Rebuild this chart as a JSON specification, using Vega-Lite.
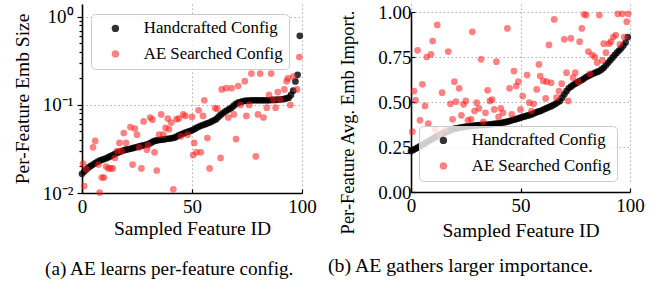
{
  "$schema": "https://vega.github.io/schema/vega-lite/v6.json",
  "padding": {"left": 12, "top": 3, "right": 5, "bottom": 2},
  "spacing": 11,
  "config": {
    "font": "Liberation Serif",
    "view": {"stroke": null},
    "title": {"font": "Liberation Serif", "fontWeight": "normal", "color": "black"},
    "axis": {
      "labelFont": "Liberation Serif", "titleFont": "Liberation Serif",
      "labelFontSize": 19, "titleFontSize": 19.5, "titleFontWeight": "normal",
      "labelColor": "black", "titleColor": "black",
      "domainColor": "black", "domainWidth": 1.6,
      "tickColor": "black", "tickWidth": 1.2,
      "gridColor": "#b0b0b0", "gridDash": [1.5, 2.5], "gridWidth": 1
    },
    "legend": {"labelFont": "Liberation Serif"}
  },
  "resolve": {"scale": {"color": "independent", "opacity": "independent"}, "legend": {"color": "independent", "opacity": "independent"}},
  "datasets": {
    "emb": [
      {"id":0,"v":0.0165,"cfg":"Handcrafted Config"},{"id":1,"v":0.0175,"cfg":"Handcrafted Config"},{"id":2,"v":0.0185,"cfg":"Handcrafted Config"},{"id":3,"v":0.0195,"cfg":"Handcrafted Config"},{"id":4,"v":0.0203,"cfg":"Handcrafted Config"},{"id":5,"v":0.021,"cfg":"Handcrafted Config"},{"id":6,"v":0.0218,"cfg":"Handcrafted Config"},{"id":7,"v":0.0226,"cfg":"Handcrafted Config"},{"id":8,"v":0.0233,"cfg":"Handcrafted Config"},{"id":9,"v":0.0238,"cfg":"Handcrafted Config"},
      {"id":10,"v":0.0243,"cfg":"Handcrafted Config"},{"id":11,"v":0.0248,"cfg":"Handcrafted Config"},{"id":12,"v":0.0255,"cfg":"Handcrafted Config"},{"id":13,"v":0.0262,"cfg":"Handcrafted Config"},{"id":14,"v":0.027,"cfg":"Handcrafted Config"},{"id":15,"v":0.0278,"cfg":"Handcrafted Config"},{"id":16,"v":0.0287,"cfg":"Handcrafted Config"},{"id":17,"v":0.0293,"cfg":"Handcrafted Config"},{"id":18,"v":0.03,"cfg":"Handcrafted Config"},{"id":19,"v":0.0305,"cfg":"Handcrafted Config"},
      {"id":20,"v":0.031,"cfg":"Handcrafted Config"},{"id":21,"v":0.0314,"cfg":"Handcrafted Config"},{"id":22,"v":0.0318,"cfg":"Handcrafted Config"},{"id":23,"v":0.0323,"cfg":"Handcrafted Config"},{"id":24,"v":0.0328,"cfg":"Handcrafted Config"},{"id":25,"v":0.0333,"cfg":"Handcrafted Config"},{"id":26,"v":0.0338,"cfg":"Handcrafted Config"},{"id":27,"v":0.0343,"cfg":"Handcrafted Config"},{"id":28,"v":0.0348,"cfg":"Handcrafted Config"},{"id":29,"v":0.0353,"cfg":"Handcrafted Config"},
      {"id":30,"v":0.0358,"cfg":"Handcrafted Config"},{"id":31,"v":0.0368,"cfg":"Handcrafted Config"},{"id":32,"v":0.038,"cfg":"Handcrafted Config"},{"id":33,"v":0.039,"cfg":"Handcrafted Config"},{"id":34,"v":0.0395,"cfg":"Handcrafted Config"},{"id":35,"v":0.04,"cfg":"Handcrafted Config"},{"id":36,"v":0.0403,"cfg":"Handcrafted Config"},{"id":37,"v":0.0406,"cfg":"Handcrafted Config"},{"id":38,"v":0.041,"cfg":"Handcrafted Config"},{"id":39,"v":0.0413,"cfg":"Handcrafted Config"},
      {"id":40,"v":0.0416,"cfg":"Handcrafted Config"},{"id":41,"v":0.042,"cfg":"Handcrafted Config"},{"id":42,"v":0.0425,"cfg":"Handcrafted Config"},{"id":43,"v":0.0437,"cfg":"Handcrafted Config"},{"id":44,"v":0.045,"cfg":"Handcrafted Config"},{"id":45,"v":0.0464,"cfg":"Handcrafted Config"},{"id":46,"v":0.0474,"cfg":"Handcrafted Config"},{"id":47,"v":0.0485,"cfg":"Handcrafted Config"},{"id":48,"v":0.0495,"cfg":"Handcrafted Config"},{"id":49,"v":0.0505,"cfg":"Handcrafted Config"},
      {"id":50,"v":0.0515,"cfg":"Handcrafted Config"},{"id":51,"v":0.053,"cfg":"Handcrafted Config"},{"id":52,"v":0.0548,"cfg":"Handcrafted Config"},{"id":53,"v":0.0565,"cfg":"Handcrafted Config"},{"id":54,"v":0.058,"cfg":"Handcrafted Config"},{"id":55,"v":0.0592,"cfg":"Handcrafted Config"},{"id":56,"v":0.0605,"cfg":"Handcrafted Config"},{"id":57,"v":0.0618,"cfg":"Handcrafted Config"},{"id":58,"v":0.063,"cfg":"Handcrafted Config"},{"id":59,"v":0.065,"cfg":"Handcrafted Config"},
      {"id":60,"v":0.067,"cfg":"Handcrafted Config"},{"id":61,"v":0.069,"cfg":"Handcrafted Config"},{"id":62,"v":0.073,"cfg":"Handcrafted Config"},{"id":63,"v":0.077,"cfg":"Handcrafted Config"},{"id":64,"v":0.0805,"cfg":"Handcrafted Config"},{"id":65,"v":0.084,"cfg":"Handcrafted Config"},{"id":66,"v":0.087,"cfg":"Handcrafted Config"},{"id":67,"v":0.09,"cfg":"Handcrafted Config"},{"id":68,"v":0.093,"cfg":"Handcrafted Config"},{"id":69,"v":0.098,"cfg":"Handcrafted Config"},
      {"id":70,"v":0.103,"cfg":"Handcrafted Config"},{"id":71,"v":0.106,"cfg":"Handcrafted Config"},{"id":72,"v":0.108,"cfg":"Handcrafted Config"},{"id":73,"v":0.11,"cfg":"Handcrafted Config"},{"id":74,"v":0.111,"cfg":"Handcrafted Config"},{"id":75,"v":0.112,"cfg":"Handcrafted Config"},{"id":76,"v":0.112,"cfg":"Handcrafted Config"},{"id":77,"v":0.113,"cfg":"Handcrafted Config"},{"id":78,"v":0.113,"cfg":"Handcrafted Config"},{"id":79,"v":0.113,"cfg":"Handcrafted Config"},
      {"id":80,"v":0.113,"cfg":"Handcrafted Config"},{"id":81,"v":0.113,"cfg":"Handcrafted Config"},{"id":82,"v":0.113,"cfg":"Handcrafted Config"},{"id":83,"v":0.113,"cfg":"Handcrafted Config"},{"id":84,"v":0.113,"cfg":"Handcrafted Config"},{"id":85,"v":0.113,"cfg":"Handcrafted Config"},{"id":86,"v":0.114,"cfg":"Handcrafted Config"},{"id":87,"v":0.114,"cfg":"Handcrafted Config"},{"id":88,"v":0.114,"cfg":"Handcrafted Config"},{"id":89,"v":0.115,"cfg":"Handcrafted Config"},
      {"id":90,"v":0.115,"cfg":"Handcrafted Config"},{"id":91,"v":0.116,"cfg":"Handcrafted Config"},{"id":92,"v":0.117,"cfg":"Handcrafted Config"},{"id":93,"v":0.119,"cfg":"Handcrafted Config"},{"id":94,"v":0.121,"cfg":"Handcrafted Config"},{"id":95,"v":0.13,"cfg":"Handcrafted Config"},{"id":96,"v":0.145,"cfg":"Handcrafted Config"},{"id":97,"v":0.185,"cfg":"Handcrafted Config"},{"id":98,"v":0.22,"cfg":"Handcrafted Config"},{"id":99,"v":0.61,"cfg":"Handcrafted Config"},
      {"id":0.5,"v":0.0215,"cfg":"AE Searched Config"},{"id":1,"v":0.012,"cfg":"AE Searched Config"},{"id":2,"v":0.0186,"cfg":"AE Searched Config"},{"id":5,"v":0.033,"cfg":"AE Searched Config"},{"id":6,"v":0.039,"cfg":"AE Searched Config"},{"id":7.5,"v":0.021,"cfg":"AE Searched Config"},{"id":8,"v":0.0101,"cfg":"AE Searched Config"},{"id":9,"v":0.015,"cfg":"AE Searched Config"},{"id":10,"v":0.015,"cfg":"AE Searched Config"},{"id":11,"v":0.02,"cfg":"AE Searched Config"},
      {"id":12,"v":0.019,"cfg":"AE Searched Config"},{"id":13,"v":0.019,"cfg":"AE Searched Config"},{"id":14,"v":0.019,"cfg":"AE Searched Config"},{"id":15,"v":0.025,"cfg":"AE Searched Config"},{"id":16,"v":0.03,"cfg":"AE Searched Config"},{"id":17,"v":0.037,"cfg":"AE Searched Config"},{"id":18,"v":0.03,"cfg":"AE Searched Config"},{"id":19,"v":0.048,"cfg":"AE Searched Config"},{"id":20,"v":0.037,"cfg":"AE Searched Config"},{"id":22,"v":0.056,"cfg":"AE Searched Config"},
      {"id":23,"v":0.021,"cfg":"AE Searched Config"},{"id":24,"v":0.054,"cfg":"AE Searched Config"},{"id":25,"v":0.046,"cfg":"AE Searched Config"},{"id":26,"v":0.033,"cfg":"AE Searched Config"},{"id":27,"v":0.019,"cfg":"AE Searched Config"},{"id":28,"v":0.065,"cfg":"AE Searched Config"},{"id":29.5,"v":0.031,"cfg":"AE Searched Config"},{"id":30,"v":0.035,"cfg":"AE Searched Config"},{"id":31,"v":0.072,"cfg":"AE Searched Config"},{"id":32,"v":0.068,"cfg":"AE Searched Config"},
      {"id":33,"v":0.029,"cfg":"AE Searched Config"},{"id":34,"v":0.018,"cfg":"AE Searched Config"},{"id":35,"v":0.046,"cfg":"AE Searched Config"},{"id":36,"v":0.078,"cfg":"AE Searched Config"},{"id":37,"v":0.046,"cfg":"AE Searched Config"},{"id":38,"v":0.055,"cfg":"AE Searched Config"},{"id":39,"v":0.07,"cfg":"AE Searched Config"},{"id":39.5,"v":0.053,"cfg":"AE Searched Config"},{"id":40.5,"v":0.063,"cfg":"AE Searched Config"},{"id":41.5,"v":0.011,"cfg":"AE Searched Config"},
      {"id":43,"v":0.069,"cfg":"AE Searched Config"},{"id":44,"v":0.07,"cfg":"AE Searched Config"},{"id":45,"v":0.044,"cfg":"AE Searched Config"},{"id":46,"v":0.078,"cfg":"AE Searched Config"},{"id":47,"v":0.075,"cfg":"AE Searched Config"},{"id":48,"v":0.046,"cfg":"AE Searched Config"},{"id":50,"v":0.073,"cfg":"AE Searched Config"},{"id":50.5,"v":0.027,"cfg":"AE Searched Config"},{"id":51,"v":0.037,"cfg":"AE Searched Config"},{"id":52,"v":0.029,"cfg":"AE Searched Config"},
      {"id":53,"v":0.087,"cfg":"AE Searched Config"},{"id":54,"v":0.029,"cfg":"AE Searched Config"},{"id":55,"v":0.075,"cfg":"AE Searched Config"},{"id":55.6,"v":0.113,"cfg":"AE Searched Config"},{"id":57,"v":0.042,"cfg":"AE Searched Config"},{"id":58,"v":0.019,"cfg":"AE Searched Config"},{"id":60.5,"v":0.092,"cfg":"AE Searched Config"},{"id":61.5,"v":0.09,"cfg":"AE Searched Config"},{"id":63,"v":0.025,"cfg":"AE Searched Config"},{"id":63.5,"v":0.15,"cfg":"AE Searched Config"},
      {"id":65.5,"v":0.155,"cfg":"AE Searched Config"},{"id":66.5,"v":0.072,"cfg":"AE Searched Config"},{"id":68,"v":0.155,"cfg":"AE Searched Config"},{"id":69,"v":0.078,"cfg":"AE Searched Config"},{"id":70,"v":0.041,"cfg":"AE Searched Config"},{"id":71,"v":0.164,"cfg":"AE Searched Config"},{"id":72,"v":0.1,"cfg":"AE Searched Config"},{"id":74,"v":0.186,"cfg":"AE Searched Config"},{"id":74.7,"v":0.075,"cfg":"AE Searched Config"},{"id":76,"v":0.1,"cfg":"AE Searched Config"},
      {"id":77,"v":0.227,"cfg":"AE Searched Config"},{"id":79,"v":0.026,"cfg":"AE Searched Config"},{"id":80,"v":0.078,"cfg":"AE Searched Config"},{"id":81,"v":0.227,"cfg":"AE Searched Config"},{"id":82.5,"v":0.072,"cfg":"AE Searched Config"},{"id":84,"v":0.093,"cfg":"AE Searched Config"},{"id":85,"v":0.13,"cfg":"AE Searched Config"},{"id":86,"v":0.227,"cfg":"AE Searched Config"},{"id":87,"v":0.115,"cfg":"AE Searched Config"},{"id":88,"v":0.093,"cfg":"AE Searched Config"},
      {"id":89,"v":0.14,"cfg":"AE Searched Config"},{"id":90,"v":0.115,"cfg":"AE Searched Config"},{"id":92,"v":0.15,"cfg":"AE Searched Config"},{"id":93,"v":0.186,"cfg":"AE Searched Config"},{"id":93.6,"v":0.2,"cfg":"AE Searched Config"},{"id":94.7,"v":0.1,"cfg":"AE Searched Config"},{"id":96,"v":0.21,"cfg":"AE Searched Config"},{"id":97.7,"v":0.15,"cfg":"AE Searched Config"},{"id":98.8,"v":0.35,"cfg":"AE Searched Config"}
    ],
    "imp": [
      {"id":0,"v":0.228,"cfg":"Handcrafted Config"},{"id":1,"v":0.234,"cfg":"Handcrafted Config"},{"id":2,"v":0.24,"cfg":"Handcrafted Config"},{"id":3,"v":0.246,"cfg":"Handcrafted Config"},{"id":4,"v":0.254,"cfg":"Handcrafted Config"},{"id":5,"v":0.261,"cfg":"Handcrafted Config"},{"id":6,"v":0.268,"cfg":"Handcrafted Config"},{"id":7,"v":0.276,"cfg":"Handcrafted Config"},{"id":8,"v":0.283,"cfg":"Handcrafted Config"},{"id":9,"v":0.29,"cfg":"Handcrafted Config"},
      {"id":10,"v":0.297,"cfg":"Handcrafted Config"},{"id":11,"v":0.304,"cfg":"Handcrafted Config"},{"id":12,"v":0.311,"cfg":"Handcrafted Config"},{"id":13,"v":0.317,"cfg":"Handcrafted Config"},{"id":14,"v":0.322,"cfg":"Handcrafted Config"},{"id":15,"v":0.328,"cfg":"Handcrafted Config"},{"id":16,"v":0.333,"cfg":"Handcrafted Config"},{"id":17,"v":0.338,"cfg":"Handcrafted Config"},{"id":18,"v":0.343,"cfg":"Handcrafted Config"},{"id":19,"v":0.348,"cfg":"Handcrafted Config"},
      {"id":20,"v":0.352,"cfg":"Handcrafted Config"},{"id":21,"v":0.354,"cfg":"Handcrafted Config"},{"id":22,"v":0.357,"cfg":"Handcrafted Config"},{"id":23,"v":0.359,"cfg":"Handcrafted Config"},{"id":24,"v":0.361,"cfg":"Handcrafted Config"},{"id":25,"v":0.363,"cfg":"Handcrafted Config"},{"id":26,"v":0.365,"cfg":"Handcrafted Config"},{"id":27,"v":0.366,"cfg":"Handcrafted Config"},{"id":28,"v":0.367,"cfg":"Handcrafted Config"},{"id":29,"v":0.369,"cfg":"Handcrafted Config"},
      {"id":30,"v":0.37,"cfg":"Handcrafted Config"},{"id":31,"v":0.371,"cfg":"Handcrafted Config"},{"id":32,"v":0.372,"cfg":"Handcrafted Config"},{"id":33,"v":0.373,"cfg":"Handcrafted Config"},{"id":34,"v":0.373,"cfg":"Handcrafted Config"},{"id":35,"v":0.374,"cfg":"Handcrafted Config"},{"id":36,"v":0.375,"cfg":"Handcrafted Config"},{"id":37,"v":0.377,"cfg":"Handcrafted Config"},{"id":38,"v":0.378,"cfg":"Handcrafted Config"},{"id":39,"v":0.38,"cfg":"Handcrafted Config"},
      {"id":40,"v":0.381,"cfg":"Handcrafted Config"},{"id":41,"v":0.383,"cfg":"Handcrafted Config"},{"id":42,"v":0.386,"cfg":"Handcrafted Config"},{"id":43,"v":0.388,"cfg":"Handcrafted Config"},{"id":44,"v":0.391,"cfg":"Handcrafted Config"},{"id":45,"v":0.394,"cfg":"Handcrafted Config"},{"id":46,"v":0.398,"cfg":"Handcrafted Config"},{"id":47,"v":0.402,"cfg":"Handcrafted Config"},{"id":48,"v":0.405,"cfg":"Handcrafted Config"},{"id":49,"v":0.409,"cfg":"Handcrafted Config"},
      {"id":50,"v":0.413,"cfg":"Handcrafted Config"},{"id":51,"v":0.417,"cfg":"Handcrafted Config"},{"id":52,"v":0.42,"cfg":"Handcrafted Config"},{"id":53,"v":0.424,"cfg":"Handcrafted Config"},{"id":54,"v":0.427,"cfg":"Handcrafted Config"},{"id":55,"v":0.431,"cfg":"Handcrafted Config"},{"id":56,"v":0.436,"cfg":"Handcrafted Config"},{"id":57,"v":0.441,"cfg":"Handcrafted Config"},{"id":58,"v":0.446,"cfg":"Handcrafted Config"},{"id":59,"v":0.45,"cfg":"Handcrafted Config"},
      {"id":60,"v":0.455,"cfg":"Handcrafted Config"},{"id":61,"v":0.461,"cfg":"Handcrafted Config"},{"id":62,"v":0.466,"cfg":"Handcrafted Config"},{"id":63,"v":0.472,"cfg":"Handcrafted Config"},{"id":64,"v":0.477,"cfg":"Handcrafted Config"},{"id":65,"v":0.483,"cfg":"Handcrafted Config"},{"id":66,"v":0.49,"cfg":"Handcrafted Config"},{"id":67,"v":0.498,"cfg":"Handcrafted Config"},{"id":68,"v":0.506,"cfg":"Handcrafted Config"},{"id":69,"v":0.524,"cfg":"Handcrafted Config"},
      {"id":70,"v":0.543,"cfg":"Handcrafted Config"},{"id":71,"v":0.56,"cfg":"Handcrafted Config"},{"id":72,"v":0.576,"cfg":"Handcrafted Config"},{"id":73,"v":0.585,"cfg":"Handcrafted Config"},{"id":74,"v":0.594,"cfg":"Handcrafted Config"},{"id":75,"v":0.602,"cfg":"Handcrafted Config"},{"id":76,"v":0.609,"cfg":"Handcrafted Config"},{"id":77,"v":0.616,"cfg":"Handcrafted Config"},{"id":78,"v":0.622,"cfg":"Handcrafted Config"},{"id":79,"v":0.63,"cfg":"Handcrafted Config"},
      {"id":80,"v":0.639,"cfg":"Handcrafted Config"},{"id":81,"v":0.645,"cfg":"Handcrafted Config"},{"id":82,"v":0.651,"cfg":"Handcrafted Config"},{"id":83,"v":0.657,"cfg":"Handcrafted Config"},{"id":84,"v":0.662,"cfg":"Handcrafted Config"},{"id":85,"v":0.667,"cfg":"Handcrafted Config"},{"id":86,"v":0.672,"cfg":"Handcrafted Config"},{"id":87,"v":0.681,"cfg":"Handcrafted Config"},{"id":88,"v":0.69,"cfg":"Handcrafted Config"},{"id":89,"v":0.704,"cfg":"Handcrafted Config"},
      {"id":90,"v":0.718,"cfg":"Handcrafted Config"},{"id":91,"v":0.732,"cfg":"Handcrafted Config"},{"id":92,"v":0.746,"cfg":"Handcrafted Config"},{"id":93,"v":0.76,"cfg":"Handcrafted Config"},{"id":94,"v":0.774,"cfg":"Handcrafted Config"},{"id":95,"v":0.786,"cfg":"Handcrafted Config"},{"id":96,"v":0.798,"cfg":"Handcrafted Config"},{"id":97,"v":0.814,"cfg":"Handcrafted Config"},{"id":98,"v":0.83,"cfg":"Handcrafted Config"},{"id":99,"v":0.86,"cfg":"Handcrafted Config"},
      {"id":0.6,"v":0.335,"cfg":"AE Searched Config"},{"id":1.4,"v":0.561,"cfg":"AE Searched Config"},{"id":2.1,"v":0.509,"cfg":"AE Searched Config"},{"id":3,"v":0.787,"cfg":"AE Searched Config"},{"id":4.1,"v":0.398,"cfg":"AE Searched Config"},{"id":5.2,"v":0.598,"cfg":"AE Searched Config"},{"id":6.4,"v":0.478,"cfg":"AE Searched Config"},{"id":7.2,"v":0.75,"cfg":"AE Searched Config"},{"id":7.9,"v":0.38,"cfg":"AE Searched Config"},{"id":9.1,"v":0.765,"cfg":"AE Searched Config"},
      {"id":9.9,"v":0.839,"cfg":"AE Searched Config"},{"id":11,"v":0.348,"cfg":"AE Searched Config"},{"id":12,"v":0.928,"cfg":"AE Searched Config"},{"id":13.2,"v":0.32,"cfg":"AE Searched Config"},{"id":14.2,"v":0.552,"cfg":"AE Searched Config"},{"id":15.8,"v":0.348,"cfg":"AE Searched Config"},{"id":17,"v":0.78,"cfg":"AE Searched Config"},{"id":18,"v":0.49,"cfg":"AE Searched Config"},{"id":19,"v":0.404,"cfg":"AE Searched Config"},{"id":19.8,"v":0.613,"cfg":"AE Searched Config"},
      {"id":20.5,"v":0.502,"cfg":"AE Searched Config"},{"id":22,"v":0.576,"cfg":"AE Searched Config"},{"id":23,"v":0.426,"cfg":"AE Searched Config"},{"id":24,"v":0.487,"cfg":"AE Searched Config"},{"id":25,"v":0.506,"cfg":"AE Searched Config"},{"id":26,"v":0.398,"cfg":"AE Searched Config"},{"id":27.4,"v":0.404,"cfg":"AE Searched Config"},{"id":28,"v":0.89,"cfg":"AE Searched Config"},{"id":29,"v":0.45,"cfg":"AE Searched Config"},{"id":30,"v":0.496,"cfg":"AE Searched Config"},
      {"id":31,"v":0.465,"cfg":"AE Searched Config"},{"id":32,"v":0.737,"cfg":"AE Searched Config"},{"id":33,"v":0.39,"cfg":"AE Searched Config"},{"id":34,"v":0.44,"cfg":"AE Searched Config"},{"id":35,"v":0.565,"cfg":"AE Searched Config"},{"id":36,"v":0.506,"cfg":"AE Searched Config"},{"id":37,"v":0.513,"cfg":"AE Searched Config"},{"id":38,"v":0.459,"cfg":"AE Searched Config"},{"id":39,"v":0.724,"cfg":"AE Searched Config"},{"id":40,"v":0.417,"cfg":"AE Searched Config"},
      {"id":41,"v":0.465,"cfg":"AE Searched Config"},{"id":42,"v":0.44,"cfg":"AE Searched Config"},{"id":44,"v":0.909,"cfg":"AE Searched Config"},{"id":45,"v":0.576,"cfg":"AE Searched Config"},{"id":46,"v":0.431,"cfg":"AE Searched Config"},{"id":47,"v":0.672,"cfg":"AE Searched Config"},{"id":48,"v":0.589,"cfg":"AE Searched Config"},{"id":49,"v":0.613,"cfg":"AE Searched Config"},{"id":50,"v":0.459,"cfg":"AE Searched Config"},{"id":51,"v":0.533,"cfg":"AE Searched Config"},
      {"id":53,"v":0.65,"cfg":"AE Searched Config"},{"id":54,"v":0.496,"cfg":"AE Searched Config"},{"id":55,"v":0.45,"cfg":"AE Searched Config"},{"id":56,"v":0.49,"cfg":"AE Searched Config"},{"id":57.4,"v":0.57,"cfg":"AE Searched Config"},{"id":58.4,"v":0.709,"cfg":"AE Searched Config"},{"id":59,"v":0.644,"cfg":"AE Searched Config"},{"id":60.4,"v":0.617,"cfg":"AE Searched Config"},{"id":61.5,"v":0.52,"cfg":"AE Searched Config"},{"id":62,"v":0.613,"cfg":"AE Searched Config"},
      {"id":63,"v":0.817,"cfg":"AE Searched Config"},{"id":64,"v":0.607,"cfg":"AE Searched Config"},{"id":65.4,"v":0.959,"cfg":"AE Searched Config"},{"id":66.5,"v":0.524,"cfg":"AE Searched Config"},{"id":67.6,"v":0.561,"cfg":"AE Searched Config"},{"id":68.8,"v":0.602,"cfg":"AE Searched Config"},{"id":70,"v":0.848,"cfg":"AE Searched Config"},{"id":71,"v":0.663,"cfg":"AE Searched Config"},{"id":71.8,"v":0.506,"cfg":"AE Searched Config"},{"id":73,"v":0.854,"cfg":"AE Searched Config"},
      {"id":74,"v":0.635,"cfg":"AE Searched Config"},{"id":75,"v":0.663,"cfg":"AE Searched Config"},{"id":76.4,"v":0.613,"cfg":"AE Searched Config"},{"id":77,"v":0.835,"cfg":"AE Searched Config"},{"id":78,"v":0.909,"cfg":"AE Searched Config"},{"id":79,"v":0.987,"cfg":"AE Searched Config"},{"id":80,"v":0.983,"cfg":"AE Searched Config"},{"id":81,"v":0.78,"cfg":"AE Searched Config"},{"id":81.7,"v":0.657,"cfg":"AE Searched Config"},{"id":82.8,"v":0.761,"cfg":"AE Searched Config"},
      {"id":84,"v":0.75,"cfg":"AE Searched Config"},{"id":85,"v":0.719,"cfg":"AE Searched Config"},{"id":86,"v":0.983,"cfg":"AE Searched Config"},{"id":87.4,"v":0.731,"cfg":"AE Searched Config"},{"id":88,"v":0.824,"cfg":"AE Searched Config"},{"id":89,"v":0.774,"cfg":"AE Searched Config"},{"id":90.4,"v":0.824,"cfg":"AE Searched Config"},{"id":91.3,"v":0.835,"cfg":"AE Searched Config"},{"id":92.4,"v":0.861,"cfg":"AE Searched Config"},{"id":93.5,"v":0.872,"cfg":"AE Searched Config"},
      {"id":94.4,"v":0.99,"cfg":"AE Searched Config"},{"id":95.4,"v":0.82,"cfg":"AE Searched Config"},{"id":96.5,"v":0.99,"cfg":"AE Searched Config"},{"id":97.4,"v":0.861,"cfg":"AE Searched Config"},{"id":98.5,"v":0.946,"cfg":"AE Searched Config"},{"id":99.2,"v":0.99,"cfg":"AE Searched Config"}
    ]
  },
  "hconcat": [
    {
      "width": 220, "height": 189,
      "data": {"name": "emb"},
      "title": {"text": "(a)  AE learns per-feature config.", "orient": "bottom", "anchor": "start", "frame": "group", "dx": -37, "fontSize": 19.2, "offset": 22.5},
      "mark": {"type": "point", "filled": true, "size": 45, "strokeWidth": 0},
      "encoding": {
        "x": {"field": "id", "type": "quantitative", "scale": {"domain": [0, 100], "nice": false, "zero": false},
              "axis": {"values": [0, 50, 100], "title": "Sampled Feature ID", "tickSize": -4, "labelFlush": false, "labelPadding": 8, "titlePadding": 3}},
        "y": {"field": "v", "type": "quantitative", "scale": {"type": "log", "domain": [0.01, 1.4], "nice": false},
              "axis": {"values": [0.01,0.02,0.03,0.04,0.05,0.06,0.07,0.08,0.09,0.1,0.2,0.3,0.4,0.5,0.6,0.7,0.8,0.9,1],
                       "labelExpr": "datum.value === 1 ? '10⁰' : datum.value === 0.1 ? '10⁻¹' : datum.value === 0.01 ? '10⁻²' : ''",
                       "labelOverlap": false,
                       "tickSize": {"condition": {"test": "datum.value === 1 || datum.value === 0.1 || datum.value === 0.01", "value": 5}, "value": 3},
                       "gridOpacity": {"condition": {"test": "datum.value === 1 || datum.value === 0.1", "value": 1}, "value": 0},
                       "labelPadding": 4, "title": "Per-Feature Emb Size", "titlePadding": 10}},
        "color": {"field": "cfg", "type": "nominal",
                  "scale": {"domain": ["Handcrafted Config", "AE Searched Config"], "range": ["#000000", "#ff1a1a"]},
                  "legend": {"orient": "none", "legendX": 9, "legendY": 10, "title": null,
                             "fillColor": "rgba(255,255,255,0.8)", "strokeColor": "#cccccc", "cornerRadius": 4,
                             "padding": 6, "labelFontSize": 16.8, "labelLimit": 300, "symbolType": "circle", "symbolSize": 55,
                             "symbolStrokeWidth": 0, "symbolOffset": 10, "labelOffset": 20, "rowPadding": 7.5,
                             "encode": {"symbols": {"update": {"opacity": {"signal": "datum.value === 'Handcrafted Config' ? 0.8 : 0.55"}}}}}},
        "opacity": {"field": "cfg", "type": "nominal",
                    "scale": {"domain": ["Handcrafted Config", "AE Searched Config"], "range": [0.8, 0.55]}, "legend": null}
      }
    },
    {
      "width": 219, "height": 188,
      "data": {"name": "imp"},
      "title": {"text": "(b)  AE gathers larger importance.", "orient": "bottom", "anchor": "start", "frame": "group", "dx": -83, "fontSize": 19.8, "offset": 16},
      "mark": {"type": "point", "filled": true, "size": 45, "strokeWidth": 0},
      "encoding": {
        "x": {"field": "id", "type": "quantitative", "scale": {"domain": [0, 100], "nice": false, "zero": false},
              "axis": {"values": [0, 50, 100], "title": "Sampled Feature ID", "tickSize": -4, "labelFlush": false, "labelPadding": 8, "titlePadding": 6}},
        "y": {"field": "v", "type": "quantitative", "scale": {"domain": [0, 1], "nice": false, "range": [188, 8]},
              "axis": {"values": [0, 0.25, 0.5, 0.75, 1], "format": ".2f", "tickSize": -4, "labelPadding": 4,
                       "title": "Per-Feature Avg. Emb Import.", "titleFontSize": 18.5, "titlePadding": 20, "titleY": 118}},
        "color": {"field": "cfg", "type": "nominal",
                  "scale": {"domain": ["Handcrafted Config", "AE Searched Config"], "range": ["#000000", "#ff1a1a"]},
                  "legend": {"orient": "none", "legendX": 8, "legendY": 122, "title": null,
                             "fillColor": "rgba(255,255,255,0.8)", "strokeColor": "#cccccc", "cornerRadius": 4,
                             "padding": 6, "labelFontSize": 16.8, "labelLimit": 300, "symbolType": "circle", "symbolSize": 55,
                             "symbolStrokeWidth": 0, "symbolOffset": 10, "labelOffset": 20, "rowPadding": 7.5,
                             "encode": {"symbols": {"update": {"opacity": {"signal": "datum.value === 'Handcrafted Config' ? 0.8 : 0.55"}}}}}},
        "opacity": {"field": "cfg", "type": "nominal",
                    "scale": {"domain": ["Handcrafted Config", "AE Searched Config"], "range": [0.8, 0.55]}, "legend": null}
      }
    }
  ]
}
